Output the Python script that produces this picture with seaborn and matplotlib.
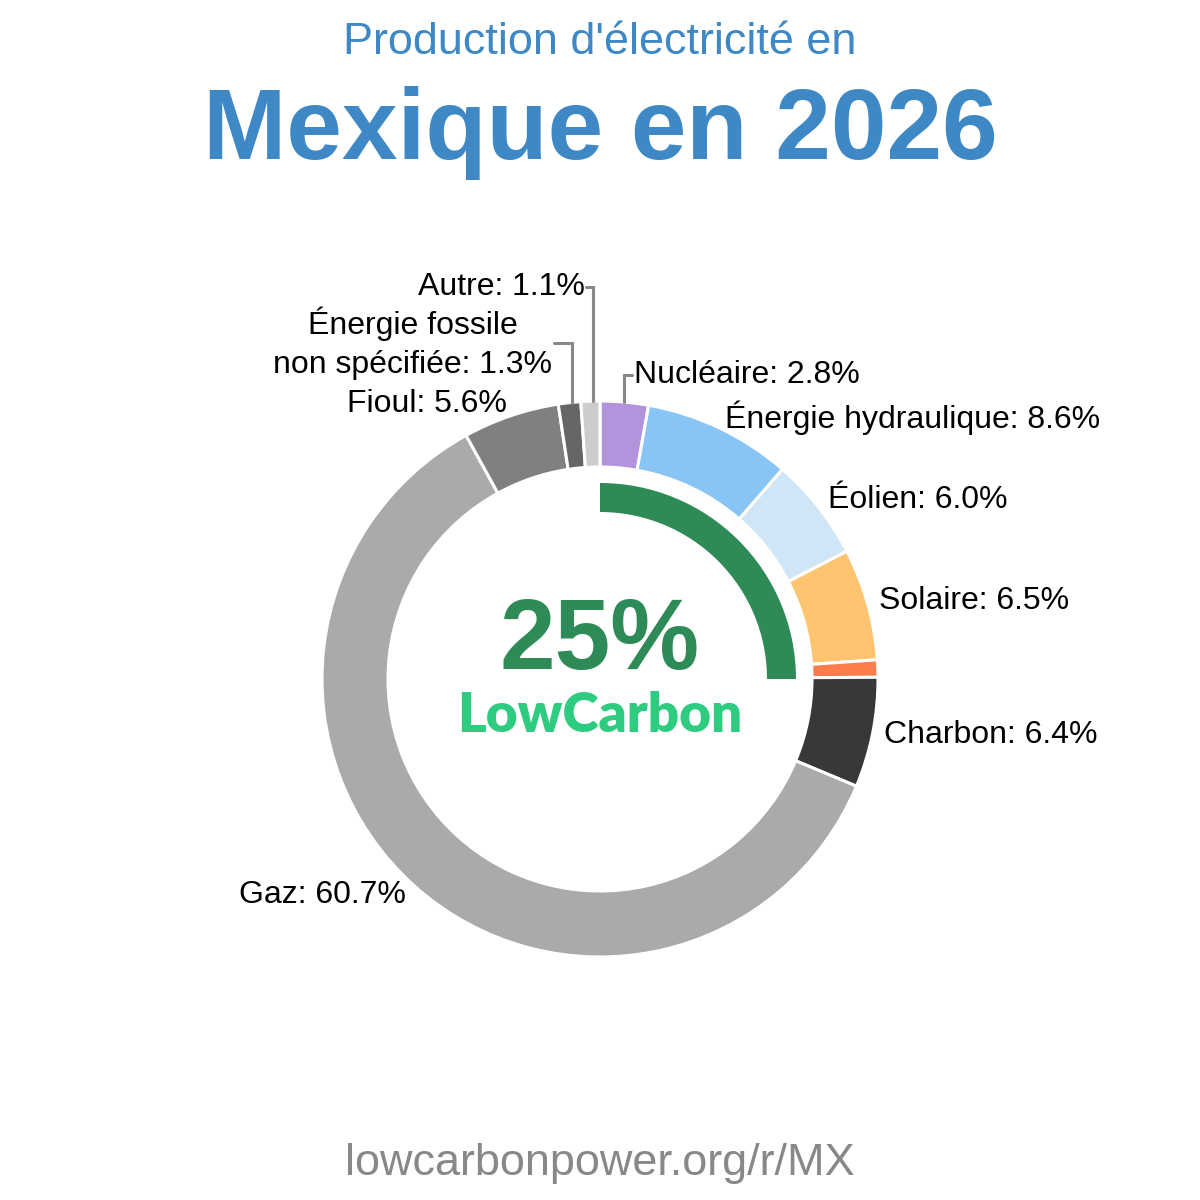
import numpy as np
import matplotlib
matplotlib.use("Agg")
import matplotlib.pyplot as plt
import seaborn as sns

# données (ordre horaire depuis le haut)
sources = ["Nucléaire", "Énergie hydraulique", "Éolien", "Solaire", "Biomasse",
           "Charbon", "Gaz", "Fioul", "Énergie fossile\nnon spécifiée", "Autre"]
parts = [2.8, 8.6, 6.0, 6.5, 1.0, 6.4, 60.7, 5.6, 1.3, 1.1]
couleurs = ["#b294dc", "#88c4f4", "#d0e6f7", "#fec470", "#fb7d4b",
            "#383838", "#aaaaaa", "#808080", "#666666", "#cccccc"]
bas_carbone = 25

sns.set_theme(style="white")
plt.rcParams['font.family'] = ['Liberation Sans', 'DejaVu Sans']
plt.rcParams['text.color'] = 'black'

fig = plt.figure(figsize=(12, 12), dpi=100)
ax = fig.add_axes([0, 0, 1, 1])

# repère centré sur le donut (pixels, y vers le haut)
x_min, x_max = -600, 600
y_min, y_max = -521, 679
R = 278

# étiquettes: les petites tranches sont déplacées avec un trait
petites = {"Nucléaire", "Énergie fossile\nnon spécifiée", "Autre"}
labels = []
for s, p in zip(sources, parts):
    if s == "Biomasse" or s in petites:
        labels.append("")
    else:
        labels.append(f"{s}: {p:.1f}%")

wedges, texts = ax.pie(
    parts, colors=couleurs, labels=labels, startangle=90, counterclock=False,
    radius=R, labeldistance=1.043,
    wedgeprops=dict(width=66, edgecolor="white", linewidth=2.2),
    textprops=dict(fontsize=23, color="black"),
)

# anneau vert bas carbone
ax.pie([bas_carbone, 100 - bas_carbone], colors=["#2e8b57", "none"],
       startangle=90, counterclock=False, radius=196,
       wedgeprops=dict(width=29, linewidth=0))

# petites tranches avec connecteurs (hauteur du texte, longueur du trait)
hauteurs = {"Nucléaire": 304, "Énergie fossile\nnon spécifiée": 336, "Autre": 392}
traits = {"Nucléaire": 8, "Énergie fossile\nnon spécifiée": 18, "Autre": 7}
for w, s, p in zip(wedges, sources, parts):
    if s not in petites:
        continue
    ang = np.deg2rad((w.theta1 + w.theta2) / 2)
    x0 = R * np.cos(ang)
    y0 = R * np.sin(ang)
    yl = hauteurs[s]
    d = traits[s]
    if x0 > 0:
        ax.plot([x0, x0, x0 + d], [y0, yl, yl], color="#888888", lw=2.2,
                solid_joinstyle="miter")
        ax.text(x0 + d + 2, yl, f"{s}: {p:.1f}%", ha="left", va="center",
                fontsize=23)
    else:
        ax.plot([x0 + 3, x0 + 3, x0 + 3 - d], [y0, yl, yl], color="#888888",
                lw=2.2, solid_joinstyle="miter")
        ax.text(x0 + 1 - d, yl, f"{s}: {p:.1f}%", ha="right", va="center",
                fontsize=23, multialignment="center", linespacing=1.4)

ax.set_xlim(x_min, x_max)
ax.set_ylim(y_min, y_max)
ax.set_aspect('equal')
ax.axis('off')

# textes
ax.text(0, 625, "Production d'électricité en", ha="center", va="baseline",
        fontsize=32.4, color="#3d88c5")
ax.text(0, 520, "Mexique en 2026", ha="center", va="baseline",
        fontsize=72, fontweight="bold", color="#3d88c5")
ax.text(0, 10, f"{bas_carbone}%", ha="center", va="baseline",
        fontsize=72, fontweight="bold", color="#2e8b57")
ax.text(0, -53, "LowCarbon", ha="center", va="baseline",
        fontsize=39.5, fontweight="heavy", color="#2ecc80",
        family=["Lato", "DejaVu Sans"])
ax.text(0, -496, "lowcarbonpower.org/r/MX", ha="center", va="baseline",
        fontsize=32.4, color="#888888")

fig.savefig("out.png", dpi=100, facecolor="white")
